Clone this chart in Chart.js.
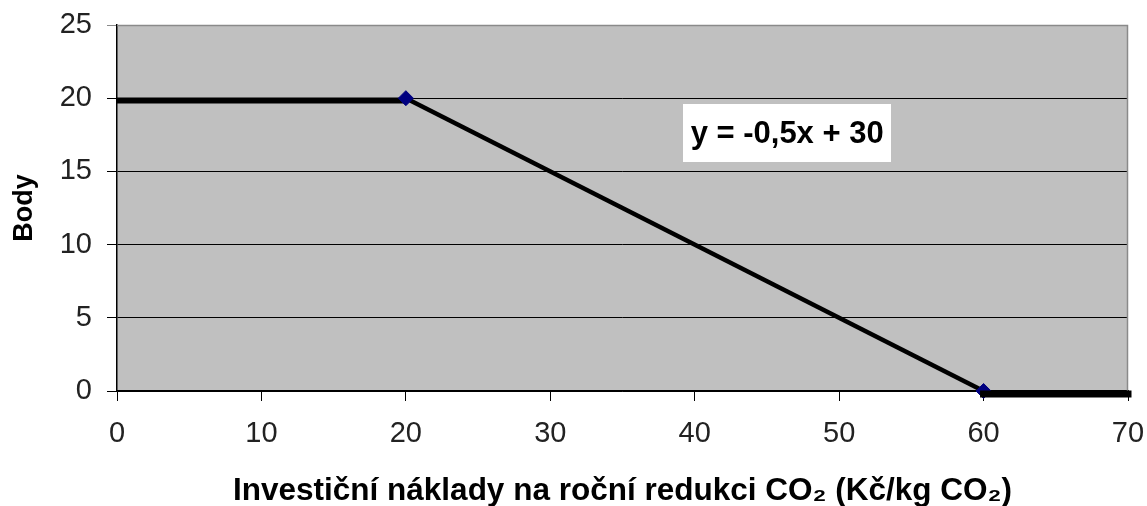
<!DOCTYPE html>
<html><head><meta charset="utf-8">
<script src="https://cdn.jsdelivr.net/npm/chart.js@4"></script>
<style>html,body{margin:0;padding:0;background:#fff}canvas{display:block}</style>
</head><body>
<canvas id="c" width="1147" height="506"></canvas>
<script>
const xTicks = [0, 10, 20, 30, 40, 50, 60, 70];
const yTicks = [0, 5, 10, 15, 20, 25];
const flatHighX = [0, 20];
const flatHighY = [19.85, 19.85];
const slopeX = [20, 60];
const slopeY = [20, 0];
const flatLowX = [60, 70];
const flatLowY = [-0.2, -0.2];
const equationText = 'y = -0,5x + 30';
const equationAt = [46.4, 17.6];
const xTitle = 'Investiční náklady na roční redukci CO₂ (Kč/kg CO₂)';
const yTitle = 'Body';

const pts = (xs, ys) => xs.map((x, i) => ({x: x, y: ys[i]}));
const FAM = '"Liberation Sans", Arial, sans-serif';

const bgPlugin = {
  id: 'bg',
  beforeDraw(chart) {
    const {ctx, chartArea: a} = chart;
    ctx.save();
    ctx.fillStyle = '#c0c0c0';
    ctx.fillRect(a.left, a.top, a.right - a.left, a.bottom - a.top);
    ctx.restore();
  },
  beforeDatasetsDraw(chart) {
    const {ctx, chartArea: a} = chart;
    ctx.save();
    ctx.strokeStyle = '#8a8a8a';
    ctx.lineWidth = 1.5;
    ctx.beginPath();
    ctx.moveTo(a.left, a.top + 0.5);
    ctx.lineTo(a.right - 0.5, a.top + 0.5);
    ctx.lineTo(a.right - 0.5, a.bottom);
    ctx.stroke();
    ctx.restore();
  },
  afterDatasetsDraw(chart) {
    const {ctx, scales} = chart;
    const cx = scales.x.getPixelForValue(equationAt[0]);
    const cy = scales.y.getPixelForValue(equationAt[1]);
    ctx.save();
    ctx.font = 'bold 31px ' + FAM;
    const w = ctx.measureText(equationText).width;
    const bw = w + 15, bh = 58;
    ctx.fillStyle = '#ffffff';
    ctx.fillRect(Math.round(cx - bw / 2), Math.round(cy - bh / 2), Math.round(bw), bh);
    ctx.fillStyle = '#000';
    ctx.textAlign = 'center';
    ctx.textBaseline = 'middle';
    ctx.fillText(equationText, cx, cy + 1);
    ctx.restore();
  }
};

new Chart(document.getElementById('c'), {
  type: 'scatter',
  data: {
    datasets: [
      {data: pts(slopeX, slopeY), showLine: true, borderColor: '#000', borderWidth: 4.5,
       pointStyle: 'rectRot', pointRadius: 7.5, pointBackgroundColor: '#000080', pointBorderColor: '#000080',
       pointBorderWidth: 1, clip: false, order: 2},
      {data: pts(flatHighX, flatHighY), showLine: true, borderColor: '#000', borderWidth: 6,
       pointRadius: 0, clip: false, order: 3},
      {data: pts(flatLowX, flatLowY), showLine: true, borderColor: '#000', borderWidth: 7,
       borderCapStyle: 'square', pointRadius: 0, clip: false, order: 1}
    ]
  },
  options: {
    responsive: false,
    animation: false,
    events: [],
    layout: {padding: {top: 25, right: 19, left: 0, bottom: 0}},
    plugins: {legend: {display: false}, tooltip: {enabled: false}},
    scales: {
      x: {
        type: 'linear', min: 0, max: 70,
        afterBuildTicks: s => { s.ticks = xTicks.map(v => ({value: v})); },
        afterFit: s => { s.height = 115; s.paddingLeft = 0; s.paddingRight = 0; },
        grid: {drawOnChartArea: false, drawTicks: true, tickLength: 10, color: '#000', lineWidth: 1},
        border: {color: '#000', width: 1.5},
        ticks: {color: '#222', font: {family: FAM, size: 29}, padding: 16, maxRotation: 0, autoSkip: false},
        title: {display: true, text: xTitle, color: '#000', font: {family: FAM, size: 31.5, weight: 'bold'},
                padding: {top: 0, bottom: -4}}
      },
      y: {
        type: 'linear', min: 0, max: 25,
        afterBuildTicks: s => { s.ticks = yTicks.map(v => ({value: v})); },
        afterFit: s => { s.width = 117; s.paddingTop = 0; s.paddingBottom = 0; },
        grid: {drawTicks: true, tickLength: 10, lineWidth: 1,
               color: c => (c.tick && c.tick.value === 25) ? '#8a8a8a' : '#000'},
        border: {color: '#000', width: 1.5},
        ticks: {color: '#222', font: {family: FAM, size: 29}, padding: 15},
        title: {display: true, text: yTitle, color: '#000', font: {family: FAM, size: 27, weight: 'bold'},
                padding: {top: 8, bottom: 0}}
      }
    }
  },
  plugins: [bgPlugin]
});
</script>
</body></html>
